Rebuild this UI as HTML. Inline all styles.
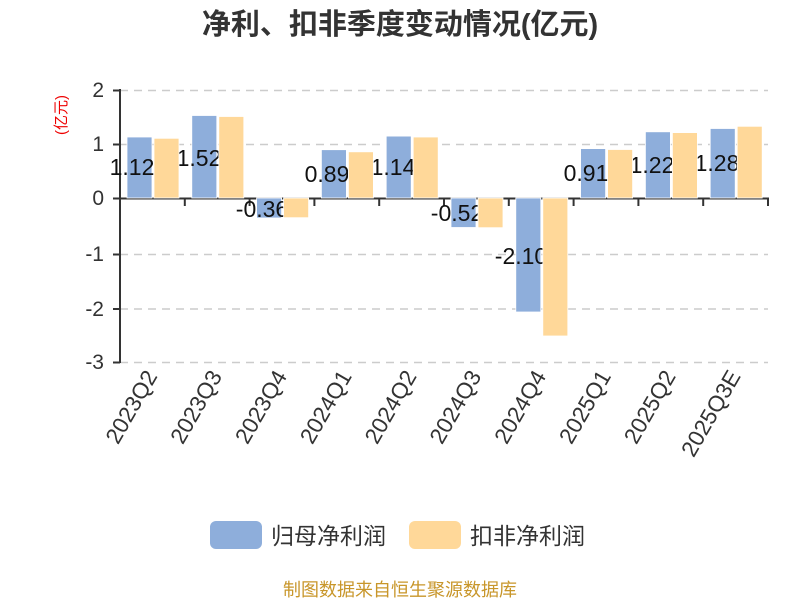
<!DOCTYPE html>
<html><head><meta charset="utf-8"><style>
body{margin:0;background:#fff;}
svg{display:block;font-family:"Liberation Sans","Noto Sans CJK SC",sans-serif;}
</style></head><body>
<svg width="800" height="600" viewBox="0 0 800 600">
<text x="400" y="34" text-anchor="middle" font-size="29" font-weight="bold" fill="#333">净利、扣非季度变动情况(亿元)</text>
<text transform="translate(66,115) rotate(-90)" text-anchor="middle" font-size="15" fill="#e00">(亿元)</text>
<g stroke="#ccc" stroke-width="1.5" stroke-dasharray="8,6">
<line x1="120" y1="90.5" x2="768" y2="90.5"/>
<line x1="120" y1="144.5" x2="768" y2="144.5"/>
<line x1="120" y1="254.5" x2="768" y2="254.5"/>
<line x1="120" y1="309" x2="768" y2="309"/>
<line x1="120" y1="362.5" x2="768" y2="362.5"/>
</g>
<g font-size="21" fill="#333" text-anchor="end">
<text x="104" y="97">2</text><text x="104" y="151">1</text><text x="104" y="205">0</text>
<text x="104" y="261">-1</text><text x="104" y="316">-2</text><text x="104" y="369">-3</text>
</g>
<g stroke="#333" stroke-width="2">
<line x1="120" y1="89" x2="120" y2="363"/>
<line x1="113" y1="90.5" x2="120" y2="90.5"/><line x1="113" y1="144.5" x2="120" y2="144.5"/>
<line x1="113" y1="198.5" x2="120" y2="198.5"/><line x1="113" y1="254.5" x2="120" y2="254.5"/>
<line x1="113" y1="309" x2="120" y2="309"/><line x1="113" y1="362.5" x2="120" y2="362.5"/>
<line x1="120" y1="198.5" x2="769" y2="198.5"/>
<line x1="184.8" y1="198" x2="184.8" y2="206"/><line x1="249.6" y1="198" x2="249.6" y2="206"/>
<line x1="314.4" y1="198" x2="314.4" y2="206"/><line x1="379.2" y1="198" x2="379.2" y2="206"/>
<line x1="444" y1="198" x2="444" y2="206"/><line x1="508.8" y1="198" x2="508.8" y2="206"/>
<line x1="573.6" y1="198" x2="573.6" y2="206"/><line x1="638.4" y1="198" x2="638.4" y2="206"/>
<line x1="703.2" y1="198" x2="703.2" y2="206"/><line x1="768" y1="198" x2="768" y2="206"/>
</g>
<g fill="#8eaedb" stroke="#fff" stroke-width="0.8">
<rect x="127" y="137" width="25" height="61"/>
<rect x="191.8" y="115.5" width="25" height="82.5"/>
<rect x="256.6" y="198" width="25" height="20"/>
<rect x="321.4" y="149.7" width="25" height="48.3"/>
<rect x="386.2" y="136.1" width="25" height="61.9"/>
<rect x="451" y="198" width="25" height="29.5"/>
<rect x="515.8" y="198" width="25" height="114"/>
<rect x="580.6" y="148.6" width="25" height="49.4"/>
<rect x="645.4" y="131.8" width="25" height="66.2"/>
<rect x="710.2" y="128.5" width="25" height="69.5"/>
</g>
<g font-size="23" fill="#111" text-anchor="middle">
<text x="132" y="175">1.12</text>
<text x="199" y="166">1.52</text>
<text x="262" y="217">-0.36</text>
<text x="327" y="182">0.89</text>
<text x="393" y="175">1.14</text>
<text x="457" y="221">-0.52</text>
<text x="521" y="264">-2.10</text>
<text x="586" y="181">0.91</text>
<text x="652" y="173">1.22</text>
<text x="717" y="171">1.28</text>
</g>
<g fill="#ffd899" stroke="#fff" stroke-width="0.8">
<rect x="154" y="138.3" width="25" height="59.7"/>
<rect x="218.8" y="116.5" width="25" height="81.5"/>
<rect x="283.6" y="198" width="25" height="19.7"/>
<rect x="348.4" y="151.8" width="25" height="46.2"/>
<rect x="413.2" y="137" width="25" height="61"/>
<rect x="478" y="198" width="25" height="29.7"/>
<rect x="542.8" y="198" width="25" height="138"/>
<rect x="607.6" y="149.5" width="25" height="48.5"/>
<rect x="672.4" y="132.6" width="25" height="65.4"/>
<rect x="737.2" y="126.3" width="25" height="71.7"/>
</g>
<g font-size="22.5" fill="#333" text-anchor="end">
<text transform="translate(158,376) rotate(-60)">2023Q2</text>
<text transform="translate(222.8,376) rotate(-60)">2023Q3</text>
<text transform="translate(287.6,376) rotate(-60)">2023Q4</text>
<text transform="translate(352.4,376) rotate(-60)">2024Q1</text>
<text transform="translate(417.2,376) rotate(-60)">2024Q2</text>
<text transform="translate(482,376) rotate(-60)">2024Q3</text>
<text transform="translate(546.8,376) rotate(-60)">2024Q4</text>
<text transform="translate(611.6,376) rotate(-60)">2025Q1</text>
<text transform="translate(676.4,376) rotate(-60)">2025Q2</text>
<text transform="translate(741.2,376) rotate(-60)">2025Q3E</text>
</g>
<rect x="210" y="521" width="52" height="28" rx="6" fill="#8eaedb"/>
<text x="271" y="544" font-size="23" fill="#333">归母净利润</text>
<rect x="409" y="521" width="52" height="28" rx="6" fill="#ffd899"/>
<text x="470" y="544" font-size="23" fill="#333">扣非净利润</text>
<text x="400" y="596" text-anchor="middle" font-size="18" fill="#c8962a">制图数据来自恒生聚源数据库</text>
</svg>
</body></html>
